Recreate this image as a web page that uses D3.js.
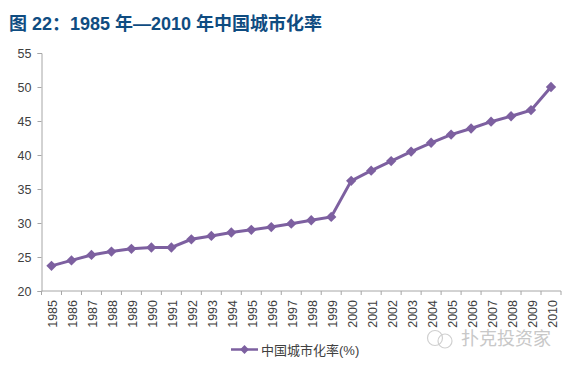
<!DOCTYPE html>
<html>
<head>
<meta charset="utf-8">
<script src="https://cdn.jsdelivr.net/npm/d3@7"></script>
<style>
    html, body { margin: 0; padding: 0; background: #fff; }
    text { font-family: "Liberation Sans", "Noto Sans CJK SC", sans-serif; }
</style>
</head>
<body>
<div id="chart"></div>
<script>
// values
const years = ["1985","1986","1987","1988","1989","1990","1991","1992","1993","1994","1995","1996","1997",
    "1998","1999","2000","2001","2002","2003","2004","2005","2006","2007","2008","2009","2010"];
const urbanRate = [23.7,24.5,25.3,25.8,26.2,26.4,26.4,27.6,28.1,28.6,29.0,29.4,29.9,
    30.4,30.9,36.2,37.7,39.1,40.5,41.8,43.0,43.9,44.9,45.7,46.6,50.0];
const yTicks = [20,25,30,35,40,45,50,55];

const titleText = "图 22：1985 年—2010 年中国城市化率";
const seriesName = "中国城市化率(%)";
const watermark = "扑克投资家";

const width = 566, height = 366;
const margin = {top: 53, right: 5, bottom: 75, left: 41.5};
const lineColor = "#7d60a0";

const svg = d3.select("#chart").append("svg")
    .attr("width", width)
    .attr("height", height)
    .style("display", "block");

svg.append("text")
    .attr("x", 9)
    .attr("y", 30)
    .attr("font-size", 18)
    .attr("font-weight", "bold")
    .attr("fill", "#0f4c81")
    .text(titleText);

// scales
const x = d3.scaleBand()
    .domain(years)
    .range([margin.left, width - margin.right]);
const y = d3.scaleLinear()
    .domain([20, 55])
    .range([height - margin.bottom, margin.top]);

// y axis
const yAxis = svg.append("g")
    .attr("transform", "translate(" + margin.left + ",0)")
    .call(d3.axisLeft(y).tickValues(yTicks).tickSize(4).tickPadding(6));
yAxis.selectAll("text").attr("font-size", 12.5).attr("fill", "#404040");
yAxis.selectAll("line, path").attr("stroke", "#a6a6a6");

// x axis, ticks sit on the band edges
const xAxisG = svg.append("g")
    .attr("transform", "translate(0," + (height - margin.bottom) + ")");
xAxisG.append("line")
    .attr("x1", margin.left).attr("x2", width - margin.right)
    .attr("stroke", "#a6a6a6");
xAxisG.selectAll(".edge")
    .data(years.concat(["end"]))
    .enter().append("line")
    .attr("class", "edge")
    .attr("x1", (d, i) => margin.left + i * x.step())
    .attr("x2", (d, i) => margin.left + i * x.step())
    .attr("y1", 0).attr("y2", 4)
    .attr("stroke", "#a6a6a6");
xAxisG.selectAll(".year")
    .data(years)
    .enter().append("text")
    .attr("class", "year")
    .attr("transform", d => "translate(" + (x(d) + x.bandwidth() / 2 + 6) + ",9) rotate(-90)")
    .attr("text-anchor", "end")
    .attr("font-size", 12.5)
    .attr("fill", "#404040")
    .text(d => d);

// line and markers
const line = d3.line()
    .x((d, i) => x(years[i]) + x.bandwidth() / 2)
    .y(d => y(d));
svg.append("path")
    .datum(urbanRate)
    .attr("fill", "none")
    .attr("stroke", lineColor)
    .attr("stroke-width", 3)
    .attr("d", line);

const diamond = d3.symbol().type(d3.symbolDiamond2).size(68);
svg.selectAll(".marker")
    .data(urbanRate)
    .enter().append("path")
    .attr("class", "marker")
    .attr("transform", (d, i) => "translate(" + (x(years[i]) + x.bandwidth() / 2) + "," + y(d) + ")")
    .attr("d", diamond)
    .attr("fill", lineColor);

// legend
const legendDiamond = d3.symbol().type(d3.symbolDiamond2).size(50);
const legend = svg.append("g").attr("transform", "translate(231,349.5)");
legend.append("line")
    .attr("x1", 0).attr("x2", 27)
    .attr("stroke", lineColor).attr("stroke-width", 2.5);
legend.append("path")
    .attr("transform", "translate(13.5,0)")
    .attr("d", legendDiamond)
    .attr("fill", lineColor);
legend.append("text")
    .attr("x", 30)
    .attr("y", 5)
    .attr("font-size", 13)
    .attr("fill", "#404040")
    .text(seriesName);

// watermark
const mark = svg.append("g")
    .attr("fill", "none")
    .attr("stroke", "#d0d0d0")
    .attr("stroke-width", 1.2);
mark.append("circle").attr("cx", 435).attr("cy", 338).attr("r", 7.5);
mark.append("circle").attr("cx", 445).attr("cy", 341).attr("r", 7);
svg.append("text")
    .attr("x", 461)
    .attr("y", 345)
    .attr("font-size", 18)
    .attr("fill", "#c8c8c8")
    .text(watermark);
</script>
</body>
</html>
